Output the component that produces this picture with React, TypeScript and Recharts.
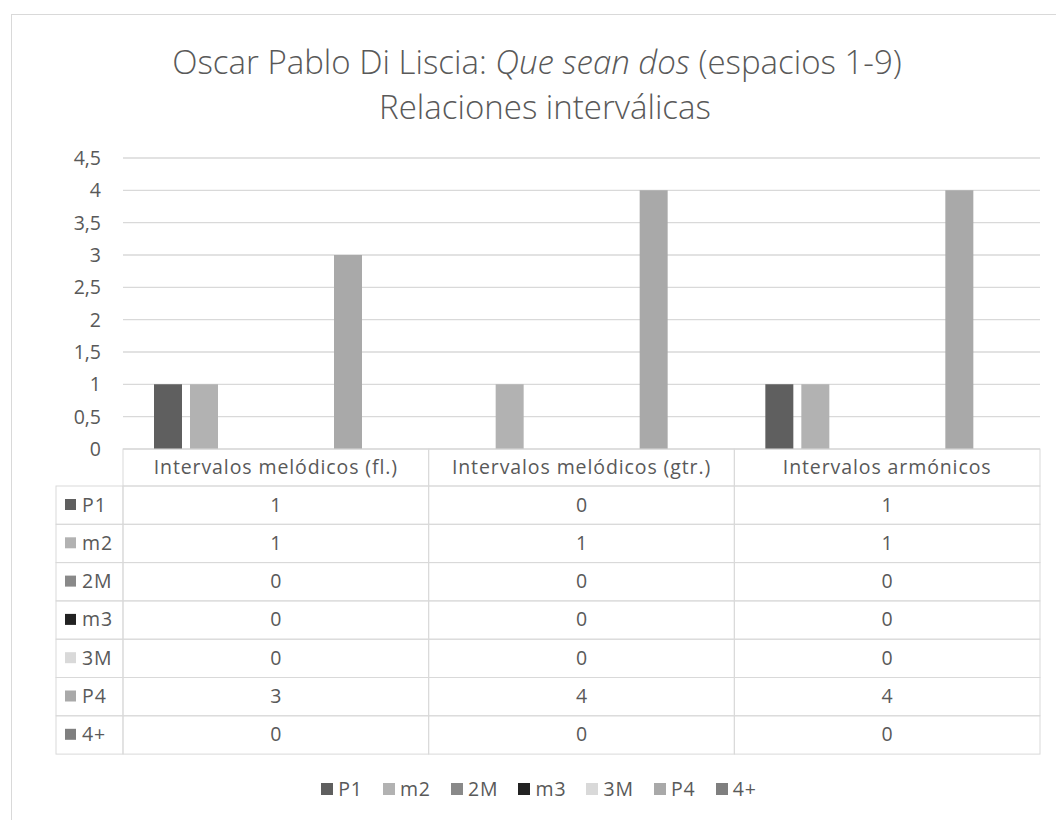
import React from 'react';
import { BarChart, Bar, XAxis, YAxis, CartesianGrid, Legend } from 'recharts';

const categories = ['Intervalos melódicos (fl.)', 'Intervalos melódicos (gtr.)', 'Intervalos armónicos'];
const seriesNames = ['P1', 'm2', '2M', 'm3', '3M', 'P4', '4+'];
const seriesKeys = ['P1', 'm2', 'M2', 'm3', 'M3', 'P4', 'A4'];
const seriesColors = ['#5f5f5f', '#b2b2b2', '#898989', '#222222', '#d9d9d9', '#a9a9a9', '#7f7f7f'];

const P1 = [1, 0, 1];
const m2 = [1, 1, 1];
const M2 = [0, 0, 0];
const m3 = [0, 0, 0];
const M3 = [0, 0, 0];
const P4 = [3, 4, 4];
const A4 = [0, 0, 0];
const seriesValues = [P1, m2, M2, m3, M3, P4, A4];

const yTicks = [0, 0.5, 1, 1.5, 2, 2.5, 3, 3.5, 4, 4.5];

const data = categories.map((c, i) => {
  const row: Record<string, string | number> = { category: c };
  seriesKeys.forEach((k, j) => {
    row[k] = seriesValues[j][i];
  });
  return row;
});

const W = 1056;
const H = 820;
const MARGIN = { top: 158, right: 16, bottom: 66, left: 63 };
const Y_W = 60;
const PLOT_W = W - MARGIN.left - MARGIN.right - Y_W;
const BAND = PLOT_W / categories.length;
const HEADER_H = 37;
const ROW_H = 38.3;
const TABLE_LEFT = 56;
const GRID = '#d9d9d9';
const TXT = '#595959';
const FONT = '"Open Sans", Lato, sans-serif';
const FS = 19.5;
const LS = 0.9;

const fmt = (v: number) => String(v).replace('.', ',');

function TableColumn(props: any) {
  const { x, y, payload, index } = props;
  const left = x - BAND / 2;
  const els: React.ReactNode[] = [];
  els.push(
    <rect key="h" x={left} y={y} width={BAND} height={HEADER_H} fill="none" stroke={GRID} strokeWidth={1} />
  );
  els.push(
    <text key="ht" x={x} y={y + 25} textAnchor="middle" fill={TXT} fontFamily={FONT} fontSize={FS} letterSpacing={LS}>
      {payload.value}
    </text>
  );
  seriesNames.forEach((name, j) => {
    const ry = y + HEADER_H + j * ROW_H;
    els.push(
      <rect key={'r' + j} x={left} y={ry} width={BAND} height={ROW_H} fill="none" stroke={GRID} strokeWidth={1} />
    );
    els.push(
      <text key={'t' + j} x={x} y={ry + 25.5} textAnchor="middle" fill={TXT} fontFamily={FONT} fontSize={FS}>
        {String(seriesValues[j][index])}
      </text>
    );
    if (index === 0) {
      els.push(
        <rect key={'lr' + j} x={TABLE_LEFT} y={ry} width={left - TABLE_LEFT} height={ROW_H} fill="none" stroke={GRID} strokeWidth={1} />
      );
      els.push(<rect key={'ls' + j} x={TABLE_LEFT + 9} y={ry + 13} width={11} height={11} fill={seriesColors[j]} />);
      els.push(
        <text key={'lt' + j} x={TABLE_LEFT + 26} y={ry + 25.5} fill={TXT} fontFamily={FONT} fontSize={FS} letterSpacing={LS}>
          {name}
        </text>
      );
    }
  });
  return <g>{els}</g>;
}

function LegendContent(props: any) {
  const payload = [...(props.payload || [])].sort(
    (a: any, b: any) => seriesNames.indexOf(a.value) - seriesNames.indexOf(b.value)
  );
  return (
    <div
      style={{
        display: 'flex',
        justifyContent: 'center',
        gap: 20,
        fontFamily: FONT,
        fontSize: FS,
        letterSpacing: LS,
        color: TXT,
        lineHeight: '20px',
      }}
    >
      {payload.map((p: any) => (
        <div key={p.value} style={{ display: 'flex', alignItems: 'center' }}>
          <span style={{ display: 'inline-block', width: 12, height: 12, background: p.color, marginRight: 5 }} />
          <span>{p.value}</span>
        </div>
      ))}
    </div>
  );
}

export default function App() {
  return (
    <div style={{ position: 'fixed', left: 0, top: 0, width: W, height: H, overflow: 'hidden', background: '#fff' }}>
      <div
        style={{
          position: 'absolute',
          left: 11,
          top: 14,
          width: 1200,
          height: 1000,
          border: '1px solid #d9d9d9',
          boxSizing: 'border-box',
        }}
      />
      <svg style={{ position: 'absolute', left: 0, top: 0 }} width={W} height={140}>
        <text x={537} y={74} textAnchor="middle" fill={TXT} fontFamily={FONT} fontWeight={300} fontSize={33}>
          <tspan>Oscar Pablo Di Liscia: </tspan>
          <tspan fontStyle="italic">Que sean dos</tspan>
          <tspan> (espacios 1-9)</tspan>
        </text>
        <text x={545} y={119} textAnchor="middle" fill={TXT} fontFamily={FONT} fontWeight={300} fontSize={33}>
          Relaciones interválicas
        </text>
      </svg>
      <div style={{ position: 'absolute', left: 0, top: 0 }}>
        <BarChart width={W} height={H} data={data} margin={MARGIN} barCategoryGap={31} barGap={8}>
          <CartesianGrid vertical={false} stroke={GRID} strokeWidth={1.3} />
          <XAxis
            dataKey="category"
            height={305}
            axisLine={false}
            tickLine={false}
            tickSize={0}
            tickMargin={0}
            interval={0}
            tick={<TableColumn />}
          />
          <YAxis
            width={Y_W}
            domain={[0, 4.5]}
            ticks={yTicks}
            axisLine={false}
            tickLine={false}
            tickMargin={16}
            tickFormatter={fmt}
            tick={{ fill: TXT, fontFamily: FONT, fontSize: FS }}
          />
          <Legend
            verticalAlign="middle"
            align="center"
            layout="horizontal"
            wrapperStyle={{ top: 779, left: 11, width: W }}
            content={<LegendContent />}
          />
          {seriesKeys.map((k, j) => (
            <Bar key={k} dataKey={k} name={seriesNames[j]} fill={seriesColors[j]} isAnimationActive={false} />
          ))}
        </BarChart>
      </div>
    </div>
  );
}
